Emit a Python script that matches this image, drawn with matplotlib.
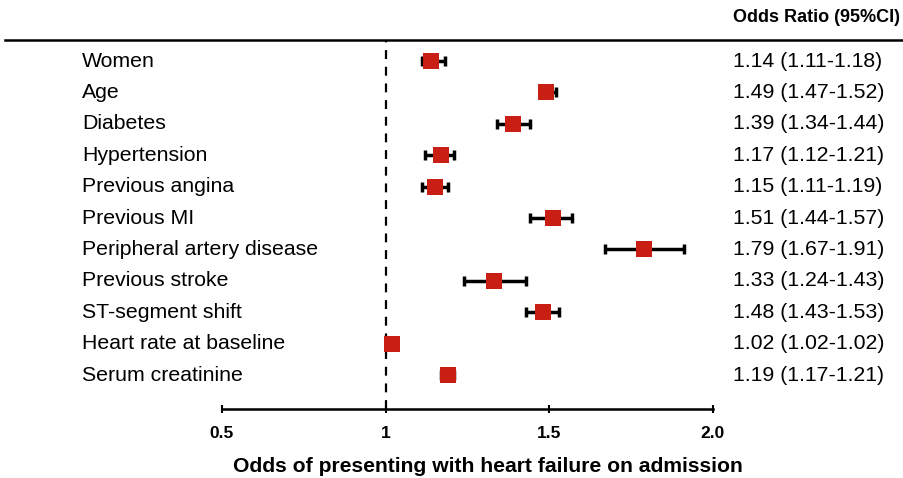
import matplotlib.pyplot as plt
from matplotlib.lines import Line2D

plt.rcParams['font.family'] = ['Liberation Sans', 'DejaVu Sans']

# === 数据 ===
factors = ["Women", "Age", "Diabetes", "Hypertension", "Previous angina",
           "Previous MI", "Peripheral artery disease", "Previous stroke",
           "ST-segment shift", "Heart rate at baseline", "Serum creatinine"]
odds = [1.14, 1.49, 1.39, 1.17, 1.15, 1.51, 1.79, 1.33, 1.48, 1.02, 1.19]
ci_low = [1.11, 1.47, 1.34, 1.12, 1.11, 1.44, 1.67, 1.24, 1.43, 1.02, 1.17]
ci_high = [1.18, 1.52, 1.44, 1.21, 1.19, 1.57, 1.91, 1.43, 1.53, 1.02, 1.21]
xticks = [0.5, 1, 1.5, 2.0]
xtick_labels = ["0.5", "1", "1.5", "2.0"]

W, H = 904, 478
fig = plt.figure(figsize=(W / 100, H / 100), dpi=100)
ax = fig.add_axes([222 / W, 1 - 409 / H, (713 - 222) / W, (409 - 40) / H])

rows = list(range(len(factors)))
err = [[o - l for o, l in zip(odds, ci_low)], [h - o for o, h in zip(odds, ci_high)]]

ax.axvline(1, color="black", lw=1.6, ls=(0, (4, 3.5)), zorder=1)
ax.errorbar(odds, rows, xerr=err, fmt="none", ecolor="black", elinewidth=2.5,
            capsize=3.5, capthick=2.5, zorder=2)
ax.plot(odds, rows, "s", color="#C81E14", markersize=11, markeredgewidth=0, zorder=3)

ax.set_xlim(0.5, 2.0)
ax.set_ylim(11.08, -0.67)
ax.set_yticks([])
ax.set_xticks(xticks)
ax.set_xticklabels(xtick_labels, fontsize=12.5, fontweight="bold")
ax.tick_params(axis="x", direction="inout", length=6, width=1.5, pad=9)
for s in ["top", "left", "right"]:
    ax.spines[s].set_visible(False)
ax.spines["bottom"].set_linewidth(1.8)
ax.patch.set_alpha(0)

# 左侧标签和右侧数值
tr = ax.get_yaxis_transform()
for i, (name, o, l, h) in enumerate(zip(factors, odds, ci_low, ci_high)):
    ax.text((82 - 222) / (713 - 222), i, name, transform=tr, ha="left", va="center",
            fontsize=15.3, clip_on=False)
    ax.text((733 - 222) / (713 - 222), i, f"{o:.2f} ({l:.2f}-{h:.2f})", transform=tr,
            ha="left", va="center", fontsize=15.3, clip_on=False)

# 表头和顶线
fig.text(900 / W, 1 - 18 / H, "Odds Ratio (95%CI)", ha="right", va="center",
         fontsize=13, fontweight="bold")
fig.add_artist(Line2D([5 / W, 1], [1 - 40 / H, 1 - 40 / H], color="black", lw=1.8))

fig.text(488 / W, 1 - 466 / H, "Odds of presenting with heart failure on admission",
         ha="center", va="center", fontsize=15.2, fontweight="bold")

fig.savefig("out.png", dpi=100)
